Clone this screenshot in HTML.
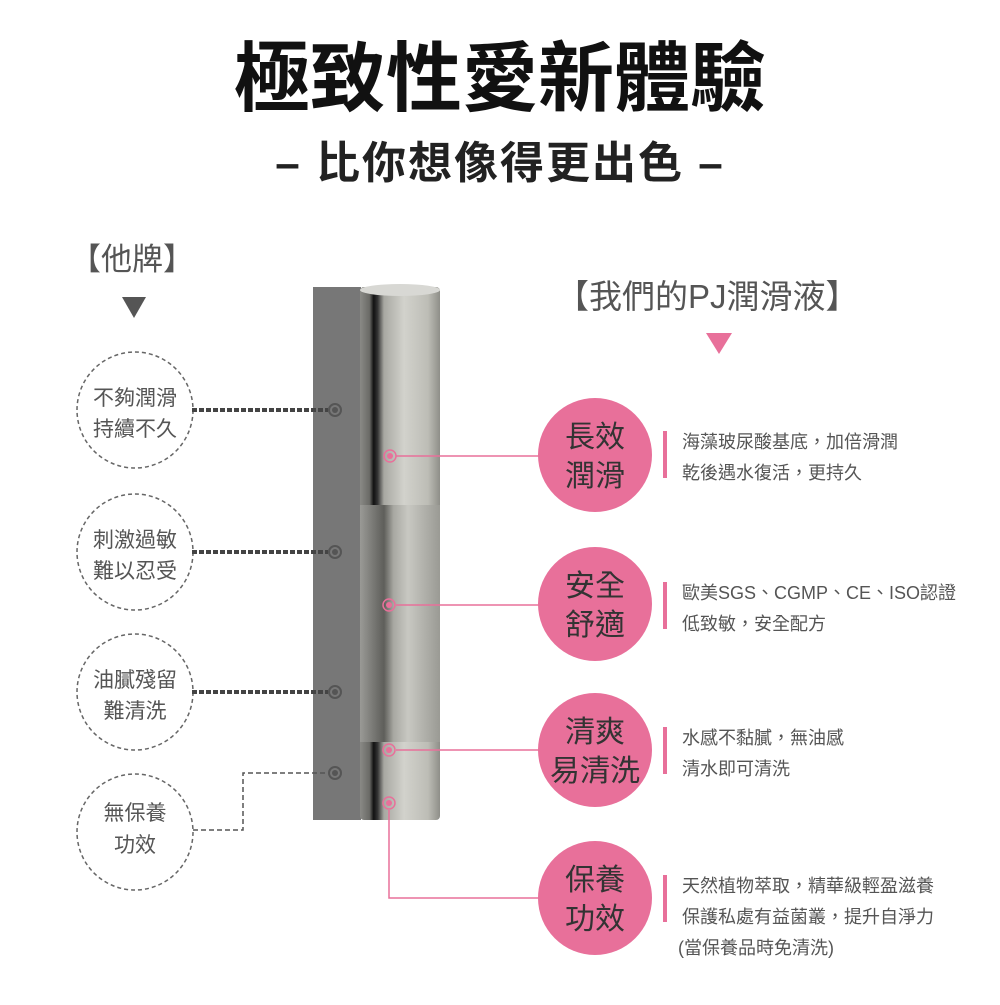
<!DOCTYPE html>
<html><head><meta charset="utf-8"><style>
body{margin:0;background:#fff;}
svg text{font-family:"Liberation Sans","Noto Sans CJK TC",sans-serif;}
</style></head><body>
<svg width="1000" height="1000" viewBox="0 0 1000 1000" xmlns="http://www.w3.org/2000/svg">
<defs>
<linearGradient id="cyl" x1="0" x2="1" y1="0" y2="0">
<stop offset="0" stop-color="#8a8a86"/><stop offset="0.12" stop-color="#6a6a66"/>
<stop offset="0.17" stop-color="#111"/><stop offset="0.22" stop-color="#333"/>
<stop offset="0.3" stop-color="#a8a8a2"/><stop offset="0.55" stop-color="#d2d2cc"/>
<stop offset="0.85" stop-color="#bdbdb6"/><stop offset="1" stop-color="#8e8e88"/>
</linearGradient>
<linearGradient id="mid" x1="0" x2="1" y1="0" y2="0">
<stop offset="0" stop-color="#9a9a96"/><stop offset="0.3" stop-color="#5e5e5a"/>
<stop offset="0.42" stop-color="#a8a8a2"/><stop offset="0.6" stop-color="#c8c8c2"/>
<stop offset="1" stop-color="#9a9a94"/>
</linearGradient>
</defs>
<text x="500" y="105" text-anchor="middle" font-size="76" font-weight="bold" fill="#111">極致性愛新體驗</text>
<text x="500" y="178" text-anchor="middle" font-size="44" font-weight="bold" fill="#222" letter-spacing="2">–  比你想像得更出色  –</text>

<text x="70" y="270" font-size="31" fill="#555">【他牌】</text>
<polygon points="122,297 146,297 134,318" fill="#555"/>
<text x="556" y="308" font-size="33" fill="#555">【我們的PJ潤滑液】</text>
<polygon points="706,333 732,333 719,354" fill="#e8709a"/>

<rect x="313" y="287" width="48" height="533" fill="#777"/>
<rect x="360" y="287" width="80" height="533" rx="4" fill="url(#cyl)"/>
<rect x="360" y="505" width="80" height="237" fill="url(#mid)"/>
<ellipse cx="400" cy="290" rx="40" ry="6" fill="#d8d8d4"/>

<g fill="none" stroke="#666" stroke-width="1.5" stroke-dasharray="4,3">
<circle cx="135" cy="410" r="58"/><circle cx="135" cy="552" r="58"/>
<circle cx="135" cy="692" r="58"/><circle cx="135" cy="832" r="58"/>
</g>
<g font-size="21" fill="#555" text-anchor="middle">
<text x="135" y="405">不夠潤滑</text><text x="135" y="436">持續不久</text>
<text x="135" y="547">刺激過敏</text><text x="135" y="578">難以忍受</text>
<text x="135" y="687">油膩殘留</text><text x="135" y="718">難清洗</text>
<text x="135" y="820">無保養</text><text x="135" y="852">功效</text>
</g>
<g stroke="#444" stroke-width="4" stroke-dasharray="5,2" fill="none">
<line x1="192" y1="410" x2="328" y2="410"/>
<line x1="192" y1="552" x2="328" y2="552"/>
<line x1="192" y1="692" x2="328" y2="692"/>
</g>
<polyline points="193,830 243,830 243,773 328,773" fill="none" stroke="#555" stroke-width="1.5" stroke-dasharray="5,3"/>
<g fill="none" stroke="#555" stroke-width="2">
<circle cx="335" cy="410" r="6"/><circle cx="335" cy="552" r="6"/><circle cx="335" cy="692" r="6"/><circle cx="335" cy="773" r="6"/>
</g>
<g fill="#555"><circle cx="335" cy="410" r="3"/><circle cx="335" cy="552" r="3"/><circle cx="335" cy="692" r="3"/><circle cx="335" cy="773" r="3"/></g>

<g stroke="#e8709a" stroke-width="1.5" fill="none">
<line x1="396" y1="456" x2="545" y2="456"/>
<line x1="396" y1="605" x2="545" y2="605"/>
<line x1="396" y1="750" x2="545" y2="750"/>
<polyline points="389,810 389,898 545,898"/>
<circle cx="390" cy="456" r="6"/><circle cx="389" cy="605" r="6"/><circle cx="389" cy="750" r="6"/><circle cx="389" cy="803" r="6"/>
</g>
<g fill="#e8709a"><circle cx="390" cy="456" r="3"/><circle cx="389" cy="605" r="3"/><circle cx="389" cy="750" r="3"/><circle cx="389" cy="803" r="3"/></g>

<g fill="#e8709a">
<circle cx="595" cy="455" r="57"/><circle cx="595" cy="604" r="57"/>
<circle cx="595" cy="750" r="57"/><circle cx="595" cy="898" r="57"/>
</g>
<g font-size="30" fill="#333" text-anchor="middle">
<text x="595" y="447">長效</text><text x="595" y="486">潤滑</text>
<text x="595" y="596">安全</text><text x="595" y="635">舒適</text>
<text x="595" y="742">清爽</text><text x="595" y="781">易清洗</text>
<text x="595" y="890">保養</text><text x="595" y="929">功效</text>
</g>
<g fill="#e8709a">
<rect x="663" y="431" width="4" height="47"/><rect x="663" y="582" width="4" height="47"/>
<rect x="663" y="727" width="4" height="47"/><rect x="663" y="875" width="4" height="47"/>
</g>
<g font-size="18" fill="#555">
<text x="682" y="448">海藻玻尿酸基底，加倍滑潤</text><text x="682" y="479">乾後遇水復活，更持久</text>
<text x="682" y="599">歐美SGS、CGMP、CE、ISO認證</text><text x="682" y="630">低致敏，安全配方</text>
<text x="682" y="744">水感不黏膩，無油感</text><text x="682" y="775">清水即可清洗</text>
<text x="682" y="892">天然植物萃取，精華級輕盈滋養</text><text x="682" y="923">保護私處有益菌叢，提升自淨力</text><text x="678" y="954">(當保養品時免清洗)</text>
</g>
</svg>
</body></html>
